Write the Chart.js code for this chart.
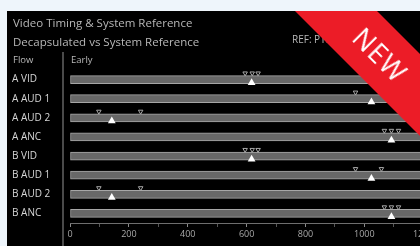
<!DOCTYPE html>
<html>
<head>
<meta charset="utf-8">
<script src="https://cdn.jsdelivr.net/npm/chart.js@4"></script>
<style>
    html, body { margin: 0; padding: 0; width: 420px; height: 246px; overflow: hidden; background: #eef5fb; }
    #panel { position: absolute; left: 7px; top: 11px; width: 413px; height: 235px; background: #000; overflow: hidden; font-family: 'Open Sans', sans-serif; }
    #chartBox { position: absolute; left: -7px; top: -11px; width: 445px; height: 246px; }
    .txt { position: absolute; white-space: nowrap; color: #b8b8b8; }
    #divider { position: absolute; left: 55px; top: 41px; width: 2px; height: 200px; background: #4a4a4a; }
    #ribbon { position: absolute; left: 248px; top: 15px; width: 250px; height: 58px; background: #ec1c27;
              transform: rotate(45deg); color: #fff; font-size: 27px; line-height: 58px; text-align: center; letter-spacing: 1px; }
</style>
</head>
<body>
<div id="panel">
    <div id="chartBox"><canvas id="timingChart" width="445" height="246"></canvas></div>
    <div class="txt" style="left:6px; top:4px; font-size:11.5px;">Video Timing &amp; System Reference</div>
    <div class="txt" style="left:6px; top:23px; font-size:11.5px;">Decapsulated vs System Reference</div>
    <div class="txt" style="left:6px; top:42px; font-size:9.5px;">Flow</div>
    <div class="txt" style="left:64px; top:42px; font-size:9.5px;">Early</div>
    <div class="txt" style="left:285px; top:21px; font-size:10px;">REF: PTP Clock Stable</div>
    <div id="divider"></div>
    <div id="ribbon">NEW</div>
</div>
<script>
// 数据
const flows = ['A VID', 'A AUD 1', 'A AUD 2', 'A ANC', 'B VID', 'B AUD 1', 'B AUD 2', 'B ANC'];
const systemRef = [617, 1024, 142, 1092, 617, 1024, 142, 1092];
const decapA = [595, 970, 98, 1068, 595, 970, 98, 1068];
const decapB = [619, 1058, 240, 1092, 619, 1058, 240, 1092];
const decapC = [639, null, null, 1116, 639, null, null, 1116];
const xTicks = [0, 100, 200, 300, 400, 500, 600, 700, 800, 900, 1000, 1100, 1200];
const barEnd = 1300;

/**
 * 生成某一组标记的点 (行号 + 偏移)
 */
function markerPoints(values, shift) {
    const pts = [];
    values.forEach((v, i) => {
        if (v !== null) pts.push({ x: v, y: i + shift });
    });
    return pts;
}

const decapStyle = {
    type: 'scatter',
    pointStyle: 'triangle',
    rotation: 180,
    radius: 2.6,
    borderWidth: 1,
    borderColor: '#a8a8a8',
    backgroundColor: 'rgba(0,0,0,0)'
};

const ctx = document.getElementById('timingChart').getContext('2d');
new Chart(ctx, {
    type: 'bar',
    data: {
        datasets: [
            {
                type: 'scatter',
                data: markerPoints(systemRef, 0.17),
                pointStyle: 'triangle',
                radius: 4.5,
                borderWidth: 0,
                backgroundColor: '#ffffff'
            },
            Object.assign({ data: markerPoints(decapA, -0.33) }, decapStyle),
            Object.assign({ data: markerPoints(decapB, -0.33) }, decapStyle),
            Object.assign({ data: markerPoints(decapC, -0.33) }, decapStyle),
            {
                type: 'bar',
                data: flows.map((f, i) => ({ y: i, x: [0, barEnd] })),
                barThickness: 8,
                backgroundColor: '#686868',
                borderColor: '#a6a6a6',
                borderWidth: 1,
                borderSkipped: false
            }
        ]
    },
    options: {
        indexAxis: 'y',
        responsive: false,
        animation: false,
        layout: { padding: { left: 12, top: 70, right: 10, bottom: 0 } },
        plugins: { legend: { display: false }, tooltip: { enabled: false } },
        scales: {
            x: {
                type: 'linear',
                position: 'bottom',
                min: 0,
                max: 1240,
                afterBuildTicks: scale => { scale.ticks = xTicks.map(v => ({ value: v })); },
                afterFit: scale => { scale.height = 23; },
                ticks: {
                    color: '#a8a8a8',
                    font: { family: 'Open Sans', size: 9 },
                    padding: 2,
                    maxRotation: 0,
                    autoSkip: false,
                    callback: v => (v % 200 === 0 ? String(v) : '')
                },
                grid: {
                    drawOnChartArea: false,
                    tickLength: 4,
                    tickColor: c => (c.tick && c.tick.value % 200 === 0 ? '#8a8a8a' : '#555')
                },
                border: { display: true, color: '#6e6e6e' }
            },
            y: {
                type: 'linear',
                position: 'left',
                min: -0.5,
                max: flows.length - 0.5,
                reverse: true,
                offset: false,
                afterBuildTicks: scale => { scale.ticks = flows.map((f, i) => ({ value: i })); },
                afterFit: scale => { scale.width = 58; },
                ticks: {
                    crossAlign: 'far',
                    color: '#d6d6d6',
                    font: { family: 'Open Sans', size: 10 },
                    callback: v => flows[v]
                },
                grid: { display: false, offset: false },
                border: { display: false }
            }
        }
    }
});
</script>
</body>
</html>
